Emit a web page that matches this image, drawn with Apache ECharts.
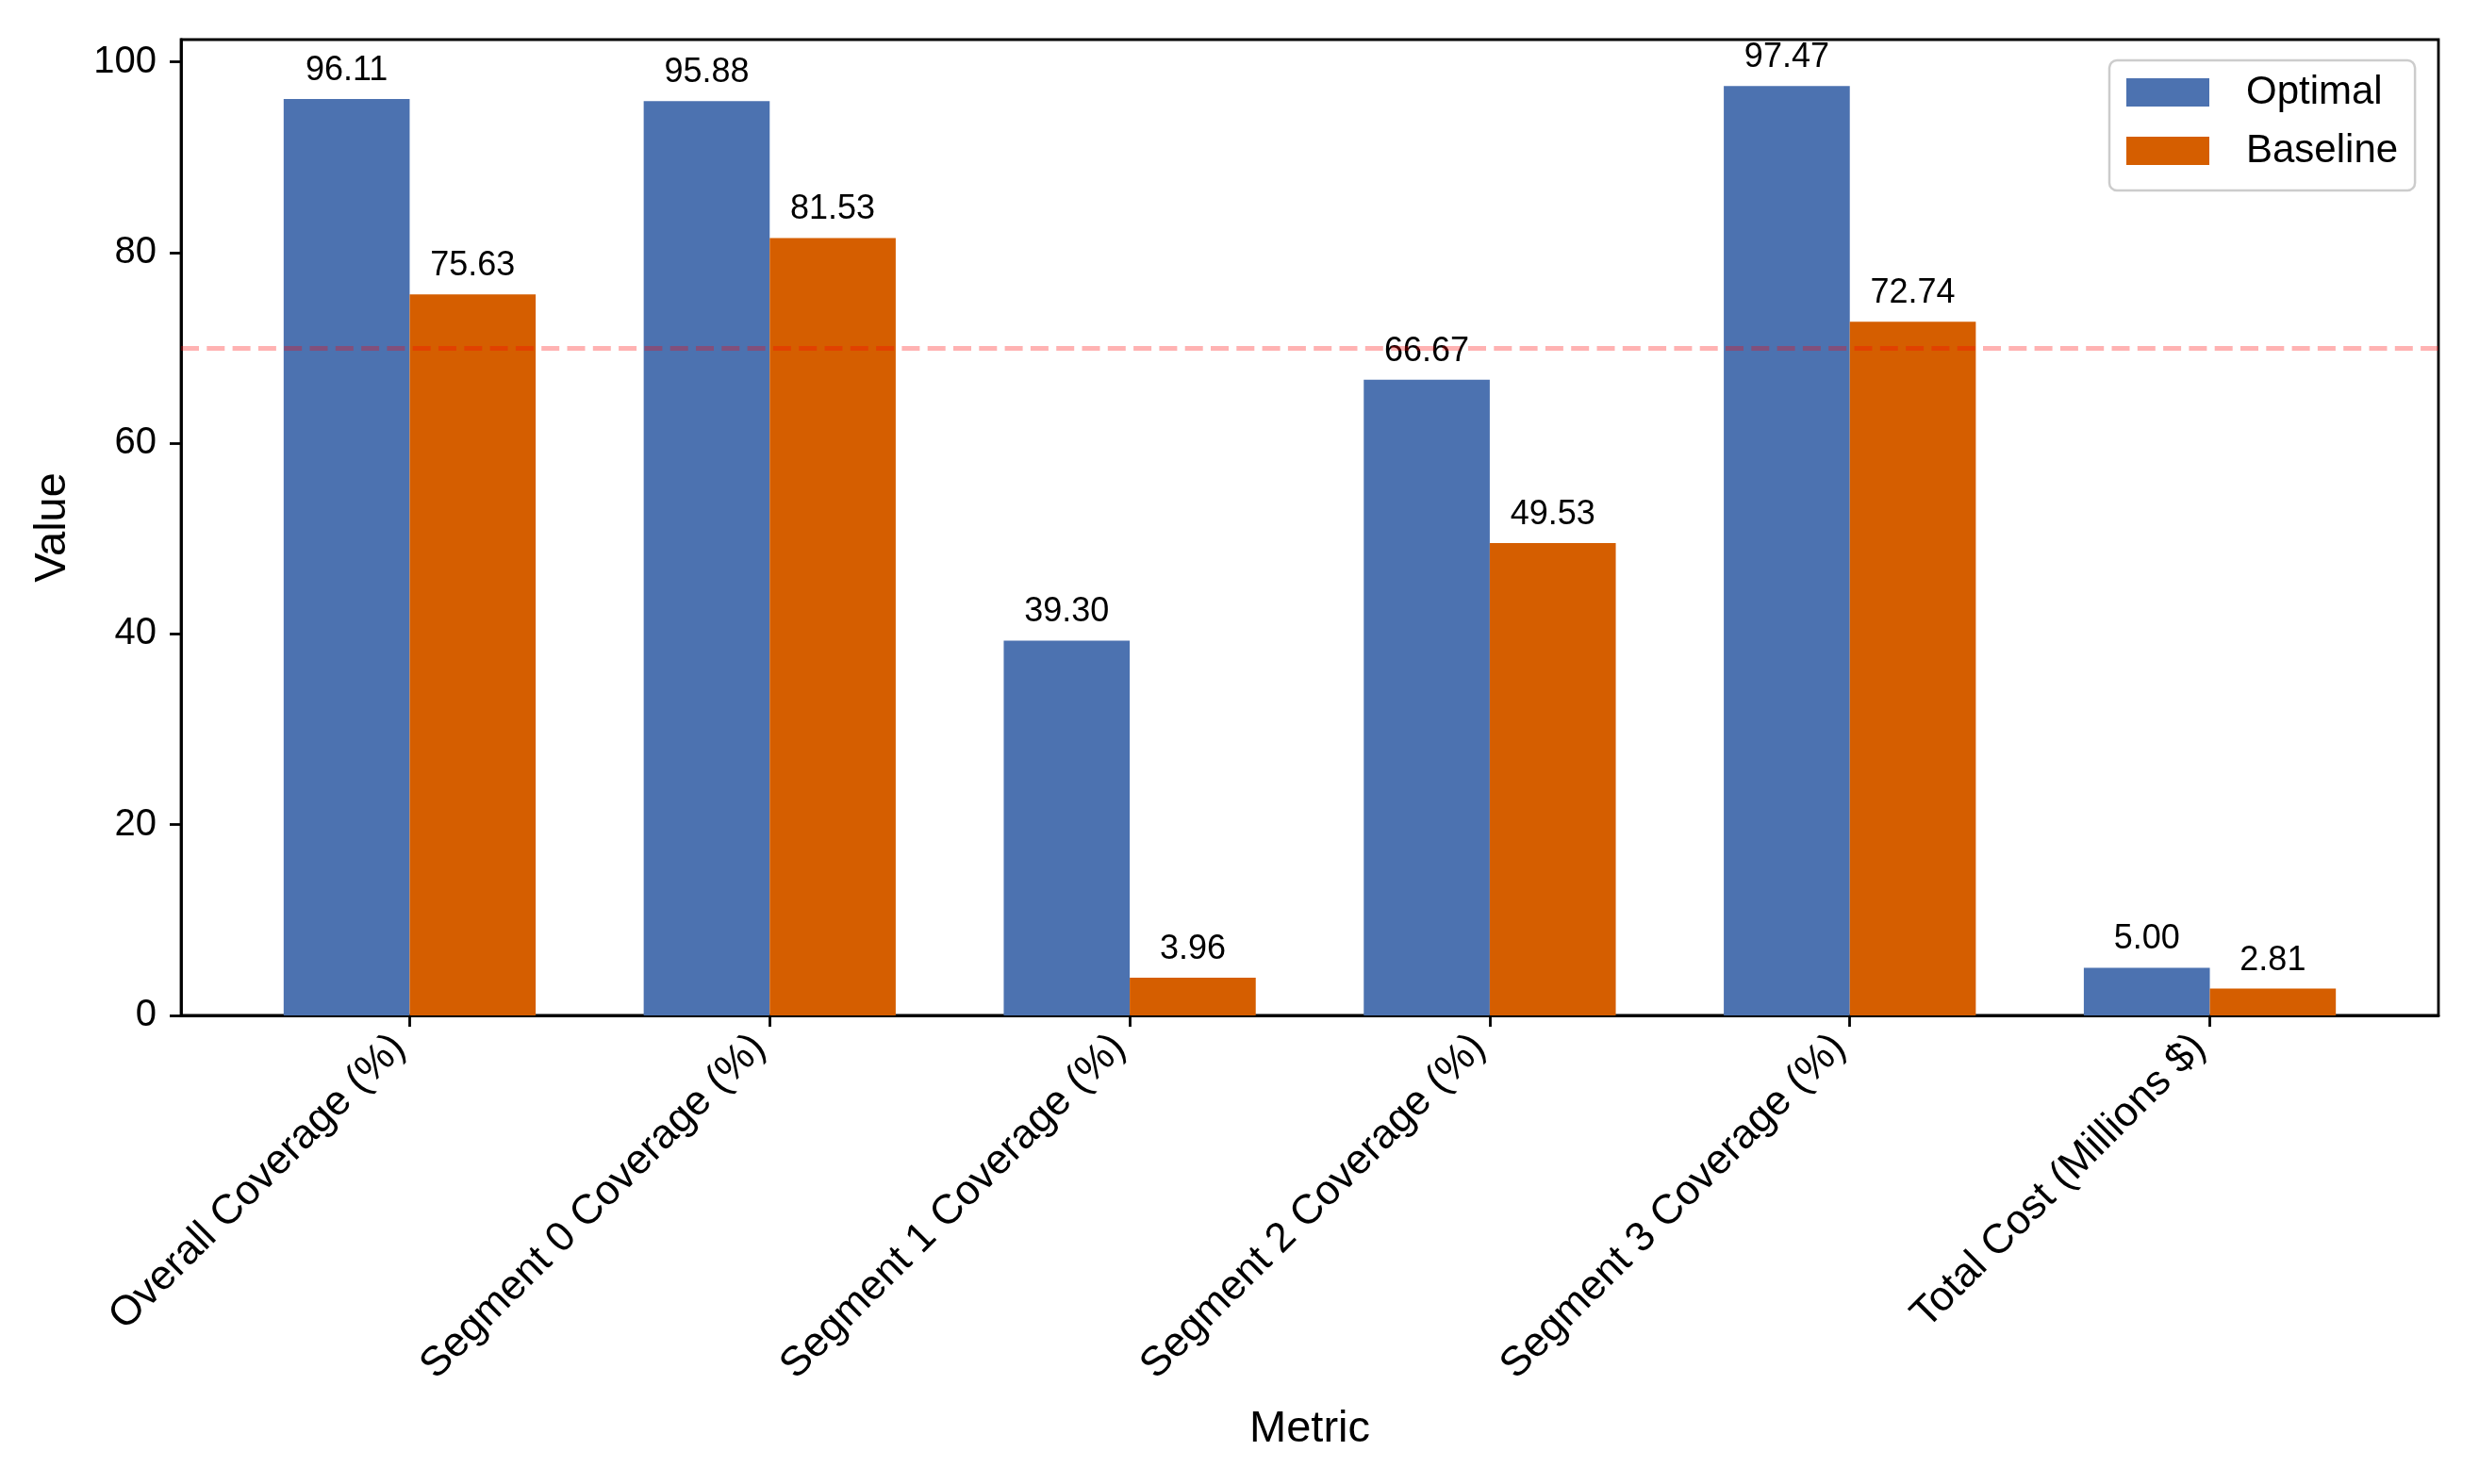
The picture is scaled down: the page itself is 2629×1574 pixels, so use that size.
<!DOCTYPE html>
<html><head><meta charset="utf-8">
<script src="https://cdn.jsdelivr.net/npm/echarts@6/dist/echarts.min.js"></script>
<style>html,body{margin:0;padding:0;background:#fff;}#chart{width:2629px;height:1574px;}</style>
</head><body><div id="chart"></div>
<script>
const categories = ['Overall Coverage (%)','Segment 0 Coverage (%)','Segment 1 Coverage (%)','Segment 2 Coverage (%)','Segment 3 Coverage (%)','Total Cost (Millions $)'];
const optimal = [96.11, 95.88, 39.30, 66.67, 97.47, 5.00];
const baseline = [75.63, 81.53, 3.96, 49.53, 72.74, 2.81];
const seriesNames = ['Optimal', 'Baseline'];
const yTicks = [0, 20, 40, 60, 80, 100];
const threshold = 70;

const FONT = 'Liberation Sans';
const xPositions = categories.map((_, i) => i);
const chart = echarts.init(document.getElementById('chart'), null, {renderer: 'canvas', devicePixelRatio: 1});

function barSeries(name, values, color, extra) {
  return Object.assign({
    name: name,
    type: 'bar',
    data: values.map((v, i) => [i, v]),
    barWidth: '35%',
    barGap: '0%',
    itemStyle: {color: color},
    label: {
      show: true, position: 'top', distance: 12,
      formatter: p => p.value[1].toFixed(2),
      fontSize: 36, lineHeight: 36, fontFamily: FONT, color: '#000'
    }
  }, extra || {});
}

const option = {
  animation: false,
  backgroundColor: '#fff',
  textStyle: {fontFamily: FONT},
  grid: {
    left: 192, right: 43, top: 42, bottom: 497,
    show: true, borderColor: '#000', borderWidth: 2.8, backgroundColor: 'transparent',
    containLabel: false, outerBoundsMode: 'none'
  },
  legend: {
    orient: 'vertical', left: 2237, top: 64,
    padding: [13, 18, 21, 18], itemGap: 20,
    itemWidth: 88, itemHeight: 30, icon: 'rect',
    backgroundColor: 'rgba(255,255,255,0.8)', borderColor: '#cccccc', borderWidth: 2.5, borderRadius: 8,
    data: seriesNames,
    formatter: n => '{t|' + n + '}',
    textStyle: {fontSize: 42, fontFamily: FONT, color: '#000',
      rich: {t: {fontSize: 42, lineHeight: 42, padding: [0, 0, 0, 34], fontFamily: FONT, color: '#000'}}}
  },
  xAxis: {
    type: 'value', min: -0.635, max: 5.635,
    splitLine: {show: false},
    axisLine: {show: true, onZero: false, lineStyle: {color: '#000', width: 2.8}},
    axisTick: {show: true, length: 12, lineStyle: {color: '#000', width: 2.8}, customValues: xPositions},
    axisLabel: {
      customValues: xPositions,
      formatter: v => categories[Math.round(v)],
      rotate: 45, margin: 16, padding: [0, 16, 0, 0],
      fontSize: 44, color: '#000', fontFamily: FONT
    },
    name: 'Metric', nameLocation: 'middle', nameGap: 416, nameMoveOverlap: false,
    nameTextStyle: {fontSize: 47, lineHeight: 47, color: '#000', fontFamily: FONT}
  },
  yAxis: {
    type: 'value', min: 0, max: 102.34,
    splitLine: {show: false},
    axisLine: {show: true, onZero: false, lineStyle: {color: '#000', width: 2.8}},
    axisTick: {show: true, length: 12, lineStyle: {color: '#000', width: 2.8}, customValues: yTicks},
    axisLabel: {customValues: yTicks, margin: 26, fontSize: 40, color: '#000', fontFamily: FONT},
    name: 'Value', nameLocation: 'middle', nameRotate: 90, nameGap: 112, nameMoveOverlap: false,
    nameTextStyle: {fontSize: 47, lineHeight: 47, color: '#000', fontFamily: FONT}
  },
  series: [
    barSeries(seriesNames[0], optimal, '#4C72B0', {
      markLine: {
        silent: true, symbol: ['none', 'none'], label: {show: false},
        lineStyle: {color: 'rgba(255,0,0,0.3)', width: 5, type: [19, 8.3]},
        emphasis: {disabled: true},
        data: [{yAxis: threshold}]
      }
    }),
    barSeries(seriesNames[1], baseline, '#D55E00')
  ]
};
chart.setOption(option);
</script>
</body></html>
